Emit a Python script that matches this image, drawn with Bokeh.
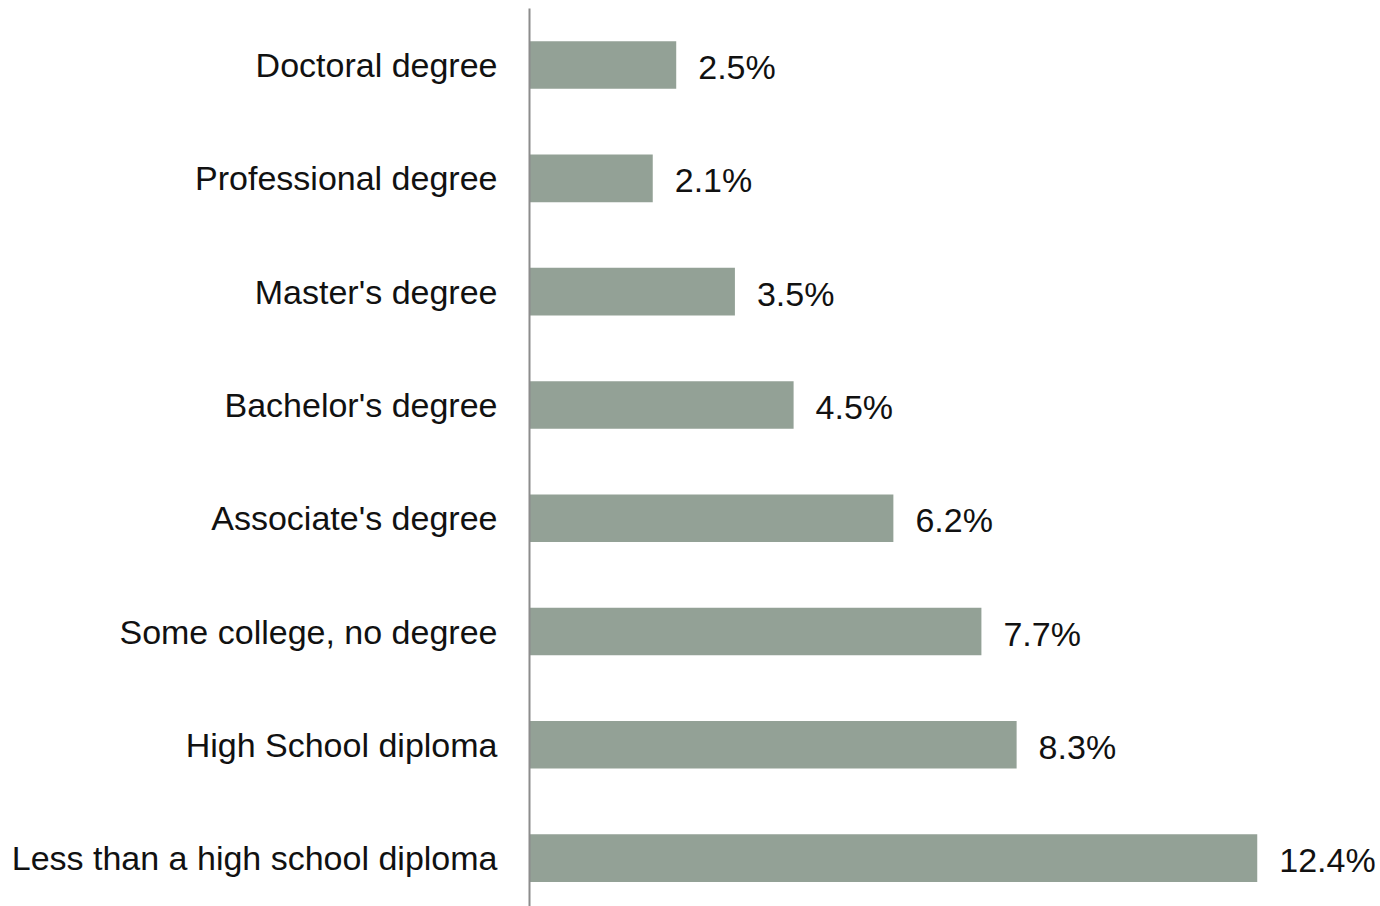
from bokeh.plotting import figure
from bokeh.models import FixedTicker, ColumnDataSource, Range1d
from bokeh.core.properties import value
from bokeh.embed import file_html
from bokeh.resources import INLINE

categories = ["Doctoral degree", "Professional degree", "Master's degree",
              "Bachelor's degree", "Associate's degree", "Some college, no degree",
              "High School diploma", "Less than a high school diploma"]
values = [2.5, 2.1, 3.5, 4.5, 6.2, 7.7, 8.3, 12.4]
value_labels = ["2.5%", "2.1%", "3.5%", "4.5%", "6.2%", "7.7%", "8.3%", "12.4%"]

n = len(categories)
ypos = [n - 1 - i for i in range(n)]
src = ColumnDataSource(dict(y=ypos, v=values, lab=value_labels))

FONT = "Liberation Sans"
p = figure(width=1380, height=906, output_backend="svg", toolbar_location=None,
           x_range=Range1d(0, 14.5), y_range=Range1d(-0.427, 7.499),
           min_border_left=529, min_border_right=0, min_border_top=8, min_border_bottom=0)
p.hbar(y="y", right="v", left=0, height=0.42, source=src, color="#93A196", line_color=None)
p.text(x="v", y="y", text="lab", source=src, x_offset=22, y_offset=2, text_align="left",
       text_baseline="middle", text_font=value(FONT), text_font_size="34px", text_color="#111111")

p.xaxis.visible = False
p.xgrid.visible = False
p.ygrid.visible = False
p.outline_line_color = None
ax = p.yaxis[0]
ax.ticker = FixedTicker(ticks=ypos)
ax.major_label_overrides = {y: c for y, c in zip(ypos, categories)}
ax.major_tick_line_color = None
ax.minor_tick_line_color = None
ax.axis_line_color = "#8c8c8c"
ax.axis_line_width = 2
ax.major_label_standoff = 26
ax.major_label_text_font = FONT
ax.major_label_text_font_size = "34px"
ax.major_label_text_color = "#111111"

open("out.html", "w").write(file_html(p, INLINE))
